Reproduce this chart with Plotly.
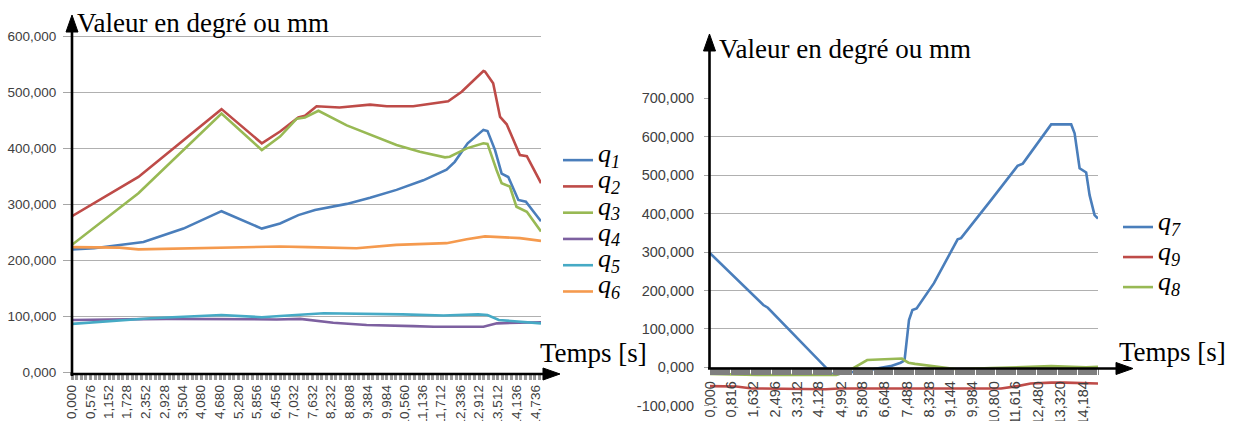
import plotly.graph_objects as go

W, H = 1234, 421

# ---------------- left chart: q1..q6 versus time ----------------
q1_t = [0, 0.7, 2.27, 3.54, 4.75, 6.03, 6.61, 7.19, 7.72, 8.73, 9.47, 10.31, 11.16,
        11.9, 12.16, 12.57, 13.07, 13.2, 13.44, 13.65, 13.86, 14.18, 14.42, 14.9]
q1_v = [220, 222, 233, 257, 288, 257, 266, 281, 290, 301, 312, 326, 343,
        362, 376, 409, 433, 431, 397, 355, 349, 308, 305, 270]

q2_t = [0, 2.11, 4.75, 6.03, 6.61, 7.19, 7.4, 7.77, 8.5, 9.47, 10.0, 10.84, 11.95,
        12.38, 13.07, 13.12, 13.38, 13.6, 13.81, 14.02, 14.23, 14.45, 14.9]
q2_v = [279, 349, 470, 409, 430, 455, 458, 475, 473, 478, 475, 475, 484,
        501, 538, 537, 516, 456, 443, 415, 388, 386, 338]

q3_t = [0, 2.11, 4.75, 6.03, 6.61, 7.14, 7.4, 7.83, 8.73, 9.47, 10.31, 11.05, 11.85,
        12.0, 12.54, 13.07, 13.2, 13.49, 13.65, 13.91, 14.12, 14.45, 14.9]
q3_v = [228, 320, 462, 397, 421, 453, 455, 467, 441, 425, 406, 394, 384,
        385, 400, 409, 408, 361, 338, 332, 296, 287, 252]

q4_t = [0, 3.0, 6.5, 7.25, 8.3, 9.36, 10.84, 11.5, 13.07, 13.5, 14.9]
q4_v = [94, 96, 95, 96, 89, 85, 83, 82, 82, 88, 90]

q5_t = [0, 2.5, 4.75, 6.03, 6.61, 8.0, 10.5, 11.8, 12.9, 13.2, 13.56, 14.9]
q5_v = [87, 97, 103, 99, 101, 106, 104, 102, 104, 103, 94, 88]

q6_t = [0, 1.5, 2.11, 4.75, 6.6, 7.5, 9.04, 10.3, 11.9, 12.54, 13.12, 14.23, 14.9]
q6_v = [224, 223, 220, 223, 225, 224, 222, 228, 231, 238, 243, 240, 235]

left_tick_labels = ["0,000", "0,576", "1,152", "1,728", "2,352", "2,928", "3,504",
                    "4,080", "4,680", "5,280", "5,856", "6,456", "7,032", "7,632",
                    "8,232", "8,808", "9,384", "9,984", "10,560", "11,136", "11,712",
                    "12,336", "12,912", "13,512", "14,136", "14,736"]
left_y_ticks = [0, 100, 200, 300, 400, 500, 600]

# ---------------- right chart: q7, q9, q8 versus time ----------------
q7_t = [0, 2.03, 2.2, 4.64, 4.83, 5.09, 5.98, 6.87, 7.25, 7.4, 7.57, 7.7, 7.86, 8.52,
        9.42, 9.55, 10.69, 11.7, 11.9, 12.8, 12.98, 13.74, 13.87, 14.06, 14.31, 14.44,
        14.63, 14.76]
q7_v = [297, 162, 155, -17, -18, -15, -8, 3, 12, 18, 123, 149, 153, 219,
        333, 336, 435, 524, 530, 617, 632, 632, 609, 518, 507, 448,
        396, 387]

q9_t = [0, 1.0, 1.6, 4.4, 4.9, 6.0, 11.07, 11.7, 12.2, 12.98, 13.5, 14.76]
q9_v = [-49, -50, -55, -57, -55, -55, -55, -49, -42, -40, -40, -42]

q8_t = [0, 1.8, 4.8, 5.22, 5.98, 6.6, 7.25, 7.3, 7.4, 7.55, 7.8, 8.78, 9.4, 10.69,
        11.7, 12.98, 13.5, 14.3, 14.76]
q8_v = [-17, -20, -20, -11, 19, 20, 23, 23, 18, 12, 9, 0, -5, -2,
        0, 3, 2, 0, 1]

right_tick_labels = ["0,000", "0,816", "1,632", "2,496", "3,312", "4,128", "4,992",
                     "5,808", "6,648", "7,488", "8,328", "9,144", "9,984", "10,800",
                     "11,616", "12,480", "13,320", "14,184"]
right_y_ticks = [-100, 0, 100, 200, 300, 400, 500, 600, 700]

BLUE, RED, GREEN = "#4A7EBB", "#BE4B48", "#98B954"
PURPLE, TEAL, ORANGE = "#7D60A0", "#46AAC5", "#F59A4E"


def px_x(p):
    return p / W


def px_y(p):
    return 1 - p / H


def fr(v):
    return f"{v:.3f}".replace(".", ",")


def to_num(lbl):
    return float(lbl.replace(",", "."))


def qname(k):
    return ("<span style='font-size:26px;baseline-shift:5px'>q<sub>%s</sub></span>" % k)


fig = go.Figure()

left_series = [("1", q1_t, q1_v, BLUE), ("2", q2_t, q2_v, RED), ("3", q3_t, q3_v, GREEN),
               ("4", q4_t, q4_v, PURPLE), ("5", q5_t, q5_v, TEAL), ("6", q6_t, q6_v, ORANGE)]
for k, t, v, c in left_series:
    fig.add_trace(go.Scatter(x=t, y=v, mode="lines", name=qname(k),
                             line=dict(color=c, width=2.6),
                             xaxis="x", yaxis="y", legend="legend"))

right_series = [("7", q7_t, q7_v, BLUE), ("9", q9_t, q9_v, RED), ("8", q8_t, q8_v, GREEN)]
for k, t, v, c in right_series:
    fig.add_trace(go.Scatter(x=t, y=v, mode="lines", name=qname(k),
                             line=dict(color=c, width=2.6),
                             xaxis="x2", yaxis="y2", legend="legend2"))

tick_font_l = dict(family="Liberation Sans", size=13.5, color="#404040")
tick_font_r = dict(family="Liberation Sans", size=14.5, color="#404040")

# pixel geometry of the two plot areas
L_X0, L_X1, L_ZERO, L_SCALE = 72, 541, 372.7, 0.5608
R_X0, R_X1, R_ZERO, R_SCALE = 710, 1098, 367.3, 0.3843
L_TOP_VAL = 602
R_BOT_VAL, R_TOP_VAL = -100, 702

fig.update_layout(
    width=W, height=H, autosize=False,
    margin=dict(l=0, r=0, t=0, b=0, autoexpand=False),
    paper_bgcolor="white", plot_bgcolor="white",
    xaxis=dict(domain=[px_x(L_X0), px_x(L_X1)], range=[0, 14.9], anchor="y",
               automargin=False,
               tickmode="array", tickvals=[to_num(s) for s in left_tick_labels],
               ticktext=left_tick_labels, tickangle=-90, tickfont=tick_font_l,
               ticks="outside", ticklen=6, tickwidth=1, tickcolor="#8c8c8c",
               minor=dict(ticks="outside", ticklen=6, tickwidth=2.5, tickcolor="#9a9a9a",
                          tick0=0, dtick=0.147, showgrid=False),
               showgrid=False, zeroline=False, showline=False),
    yaxis=dict(domain=[px_y(L_ZERO), px_y(L_ZERO - L_TOP_VAL * L_SCALE)],
               range=[0, L_TOP_VAL], anchor="x", automargin=False,
               tickmode="array", tickvals=left_y_ticks,
               ticktext=[fr(v) for v in left_y_ticks], tickfont=tick_font_l,
               ticks="outside", ticklen=8, tickcolor="#a6a6a6", ticklabelstandoff=4,
               showgrid=True, gridcolor="#b0b0b0", gridwidth=1,
               zeroline=False, showline=False),
    xaxis2=dict(domain=[px_x(R_X0), px_x(R_X1)], range=[0, 14.76],
                anchor="free", position=px_y(R_ZERO), automargin=False,
                tickmode="array", tickvals=[to_num(s) for s in right_tick_labels],
                ticktext=right_tick_labels, tickangle=-90, tickfont=tick_font_r,
                ticks="outside", ticklen=7, tickwidth=1, tickcolor="#7f7f7f",
                minor=dict(ticks="outside", ticklen=7, tickwidth=1, tickcolor="#7f7f7f",
                           tick0=0, dtick=0.04, showgrid=False),
                showgrid=False, zeroline=False, showline=False),
    yaxis2=dict(domain=[px_y(R_ZERO - R_BOT_VAL * R_SCALE), px_y(R_ZERO - R_TOP_VAL * R_SCALE)],
                range=[R_BOT_VAL, R_TOP_VAL], anchor="x2", automargin=False,
                tickmode="array", tickvals=right_y_ticks,
                ticktext=[fr(v) for v in right_y_ticks], tickfont=tick_font_r,
                ticks="outside", ticklen=5, tickcolor="#a6a6a6", ticklabelstandoff=7,
                showgrid=True, gridcolor="#b0b0b0", gridwidth=1,
                zeroline=False, showline=False),
    legend=dict(x=px_x(558), xanchor="left", y=px_y(142), yanchor="top",
                font=dict(family="Liberation Serif", size=17.9, color="black", style="italic"),
                bgcolor="rgba(0,0,0,0)", borderwidth=0, itemwidth=30),
    legend2=dict(x=px_x(1118), xanchor="left", y=px_y(207), yanchor="top",
                 font=dict(family="Liberation Serif", size=20.8, color="black", style="italic"),
                 bgcolor="rgba(0,0,0,0)", borderwidth=0, itemwidth=30),
    showlegend=True,
)


# axes drawn as black arrows
def seg(x0, y0, x1, y1):
    return dict(type="line", xref="paper", yref="paper", layer="above",
                x0=px_x(x0), y0=px_y(y0), x1=px_x(x1), y1=px_y(y1),
                line=dict(color="black", width=2.6))


def tri(pts):
    d = "M " + " L ".join(f"{px_x(a):.6f},{px_y(b):.6f}" for a, b in pts) + " Z"
    return dict(type="path", xref="paper", yref="paper", layer="above", path=d,
                fillcolor="black", line=dict(color="black", width=1))


shapes = [
    seg(72, 376, 72, 28), tri([(72, 15), (66, 32), (78, 32)]),
    seg(70.5, 374, 546, 374), tri([(560, 374), (543, 368), (543, 380)]),
    seg(709.5, 369, 709.5, 47), tri([(709.5, 34), (703.5, 51), (715.5, 51)]),
    seg(708, 368.5, 1118, 368.5), tri([(1133, 368.5), (1116, 362.5), (1116, 374.5)]),
]
fig.update_layout(shapes=shapes)

serif = dict(family="Liberation Serif", size=27, color="black")


def label(text, x, y_mid):
    return dict(text=text, x=px_x(x), y=px_y(y_mid), xref="paper", yref="paper",
                xanchor="left", yanchor="middle", showarrow=False, font=serif)


fig.update_layout(annotations=[
    label("Valeur en degré ou mm", 75, 22.8),
    label("Valeur en degré ou mm", 717, 48.8),
    label("Temps [s]", 538, 353.0),
    label("Temps [s]", 1117, 351.8),
])

fig.write_html("out.html")
